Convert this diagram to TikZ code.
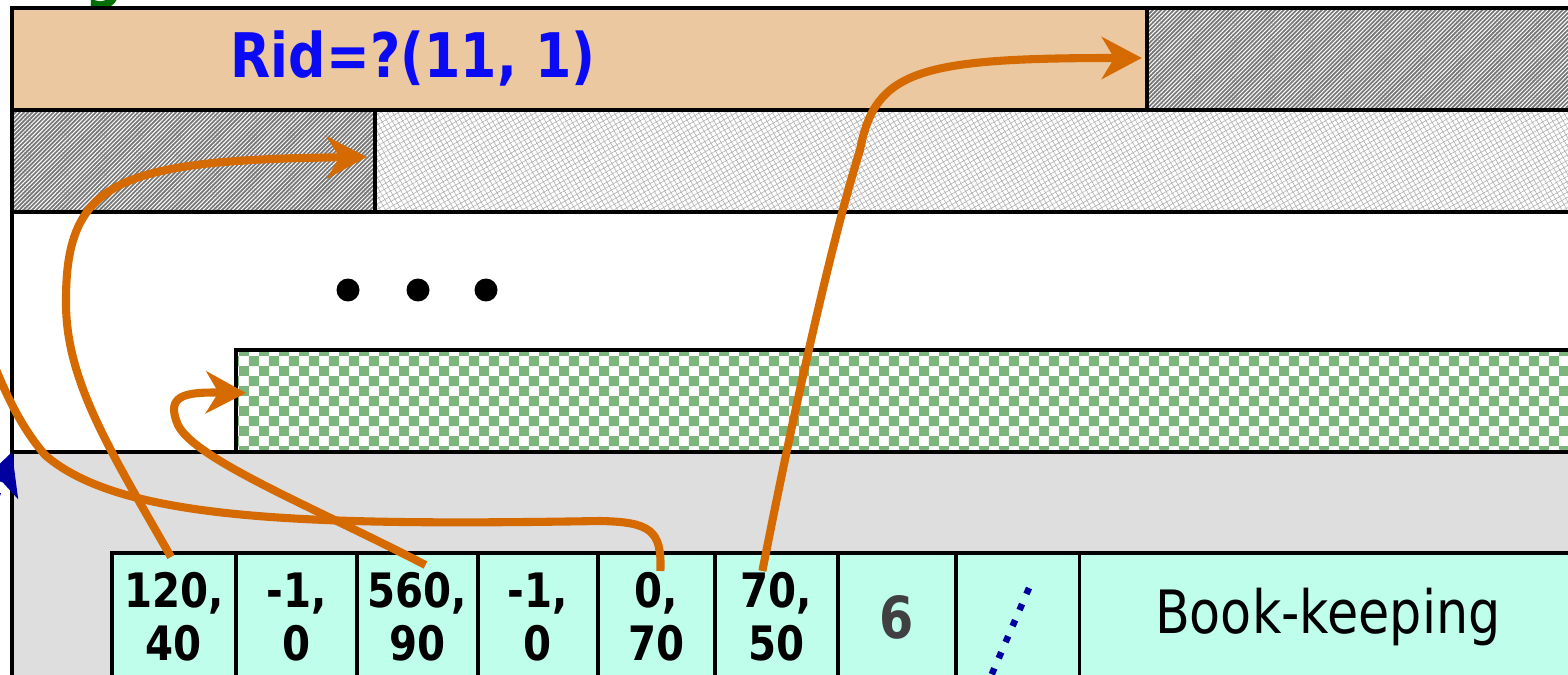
\documentclass[tikz,border=0pt]{standalone}
\usepackage{fontspec}
\newfontfamily\tahfont{DejaVu Sans}[FakeStretch=0.85]
\usetikzlibrary{positioning, arrows.meta, calc, patterns, patterns.meta}
\definecolor{SlotTan}{RGB}{235,200,160}
\definecolor{SlotOrange}{RGB}{212,106,0}
\definecolor{SlotBlue}{RGB}{10,10,245}
\definecolor{SlotNavy}{RGB}{0,0,160}
\definecolor{SlotGrey}{RGB}{222,222,222}
\definecolor{SlotAqua}{RGB}{192,254,236}
\definecolor{SlotGreen}{RGB}{125,182,125}
\definecolor{SlotLeaf}{RGB}{0,110,0}
\definecolor{SlotDark}{RGB}{64,64,64}
\definecolor{SlotHatch}{RGB}{120,120,120}

\begin{document}
\begin{tikzpicture}[x=0.02cm, y=-0.02cm,
    rec/.style={draw, line width=2.6pt, outer sep=0pt, inner sep=0pt,
                anchor=north west, minimum height=2.04cm},
    hatchdark/.style={rec, preaction={fill=SlotHatch},
                pattern={Lines[angle=45, distance=1.7pt, line width=0.55pt]},
                pattern color=white},
    hatchlight/.style={rec, preaction={fill=white},
                pattern={Hatch[angle=30, distance=2.6pt, line width=0.35pt]},
                pattern color=gray!60},
    checks/.style={rec, preaction={fill=white}, pattern=checkerboard,
                pattern color=SlotGreen},
    cell/.style={draw, line width=1.9pt, fill=SlotAqua, outer sep=0pt,
                inner sep=0pt, minimum height=2.56cm, align=center,
                font=\tahfont\bfseries\fontsize{27}{30}\selectfont},
    wire/.style={line width=4.6pt, SlotOrange},
    ptr/.style={wire, -{Stealth[length=0.8cm, width=0.84cm, inset=0.25cm]}},
    navyline/.style={SlotNavy, line width=0.13cm,
                dash pattern=on 0.13cm off 0.22cm,
                -{Stealth[length=0.84cm, width=0.84cm, inset=0.22cm]}}
  ]
  \useasboundingbox (0,0) rectangle (1568,675);
  \clip (0,0) rectangle (1568,675);

  % page frame and records
  \node[font=\tahfont\bfseries\fontsize{35}{40}\selectfont, text=SlotLeaf,
        anchor=base] (gtail) at (104,-4) {g};
  \node[rec, fill=white, minimum width=32.16cm, minimum height=13.84cm]
        (frame) at (12,8) {};
  \node[rec, fill=SlotTan, minimum width=22.7cm] (rid) at (12,8) {};
  \node[hatchdark, minimum width=9.46cm] (darkA) at (1147,8) {};
  \node[hatchdark, minimum width=7.26cm] (darkB) at (12,110) {};
  \node[hatchlight, minimum width=24.9cm] (lightB) at (375,110) {};
  \node[checks, minimum width=27.68cm] (green) at (236,350) {};
  \node[rec, fill=SlotGrey, minimum width=32.16cm, minimum height=4.96cm]
        (grey) at (12,452) {};

  \node[font=\tahfont\bfseries\fontsize{35}{40}\selectfont, text=SlotBlue,
        anchor=base] (ridtext) at (413,78) {Rid=?(11, 1)};
  \foreach \dx in {348,418,486}
    \fill (\dx,290) circle[radius=0.23cm];

  % slot directory
  \node[cell, minimum width=2.48cm, anchor=north west] (c1) at (112,553) {120,\\40};
  \node[cell, minimum width=2.42cm, right=0pt of c1] (c2) {-1,\\0};
  \node[cell, minimum width=2.42cm, right=0pt of c2] (c3) {560,\\90};
  \node[cell, minimum width=2.40cm, right=0pt of c3] (c4) {-1,\\0};
  \node[cell, minimum width=2.34cm, right=0pt of c4] (c5) {0,\\70};
  \node[cell, minimum width=2.46cm, right=0pt of c5] (c6) {70,\\50};
  \node[cell, minimum width=2.36cm, right=0pt of c6, text=SlotDark,
        font=\tahfont\bfseries\fontsize{33}{38}\selectfont] (c7) {6};
  \node[cell, minimum width=2.48cm, right=0pt of c7] (c8) {};
  \node[cell, minimum width=9.92cm, right=0pt of c8,
        font=\tahfont\fontsize{34}{38}\selectfont] (book) {Book-keeping};

  % slot pointers
  \draw[ptr] ($(c1.north)+(-3,4)$) .. controls (110,450) and (65,380) .. (66,300)
        .. controls (66,180) and (120,160) .. ($(darkB.east)+(-8,-4)$);
  \draw[ptr] ($(c3.north)+(8,12)$) .. controls (320,510) and (195,460) .. (178,425)
        .. controls (165,395) and (185,392) .. ($(green.west)+(10,-8)$);
  \coordinate (exitleft) at (-20,330);
  \draw[wire] ($(c5.north)+(4,18)$) .. controls (662,530) and (650,522) .. (600,521)
        .. controls (300,526) and (120,520) .. (45,455)
        .. controls (15,420) and (0,380) .. (exitleft);
  \draw[ptr] ($(c6.north)+(-14,18)$) .. controls (800,380) and (835,230) .. (860,150)
        .. controls (875,70) and (920,58) .. ($(rid.east)+(-5,-1)$);

  % free space pointer
  \coordinate (slotdir) at (1029,588);
  \draw[navyline] (slotdir) -- (972,720) -- (-70,720) -- (-41,603) -- (grey.north west);
\end{tikzpicture}
\end{document}
